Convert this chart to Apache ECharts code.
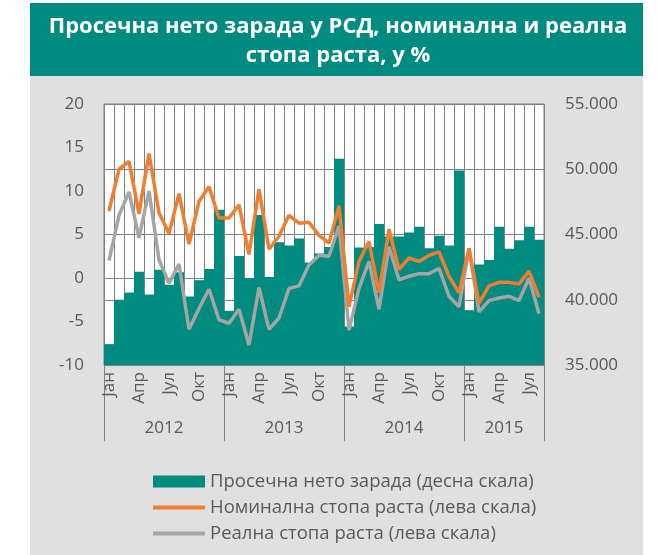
<!DOCTYPE html>
<html>
<head>
<meta charset="utf-8">
<script src="https://cdn.jsdelivr.net/npm/echarts@6/dist/echarts.min.js"></script>
<style>
  html, body { margin: 0; padding: 0; background: #fff; }
  #main { width: 658px; height: 555px; }
</style>
</head>
<body>
<div id="main"></div>
<script>
// подаци
var years = ['2012', '2013', '2014', '2015'];
var monthNames = ['Јан', 'Феб', 'Мар', 'Апр', 'Мај', 'Јун', 'Јул', 'Авг', 'Сеп', 'Окт', 'Нов', 'Дец'];
var monthsInYear = [12, 12, 12, 8];

// просечна нето зарада, РСД (десна скала)
var wages = [
  36600, 40000, 40550, 42150, 40400, 42300, 41150, 42100, 40250, 41500, 42350, 46900,
  39150, 43350, 41650, 46500, 41750, 44400, 44150, 44700, 42850, 43550, 44050, 50800,
  37950, 44000, 44050, 45800, 44850, 44850, 45150, 45600, 43950, 44900, 44150, 49900,
  39200, 42700, 43050, 45600, 43900, 44550, 45600, 44600
];
// номинална стопа раста, % (лева скала)
var nominal = [
  7.7, 12.5, 13.4, 7.4, 14.3, 7.5, 5.1, 9.7, 3.9, 8.8, 10.5, 6.9,
  6.9, 8.4, 2.7, 10.2, 3.3, 4.8, 7.2, 6.3, 6.4, 4.9, 4.0, 8.3,
  -3.3, 1.9, 4.2, -1.7, 5.6, 1.0, 2.3, 1.9, 2.6, 3.0, 0.2, -1.7,
  3.4, -2.9, -0.9, -0.5, -0.5, -0.7, 0.8, -2.2
];
// реална стопа раста, % (лева скала)
var real = [
  2.0, 7.2, 9.9, 4.6, 10.0, 2.1, -0.6, 1.6, -5.9, -3.5, -1.3, -4.8,
  -5.2, -3.6, -7.7, -1.1, -5.9, -4.6, -1.2, -0.9, 1.5, 2.6, 2.5, 6.0,
  -6.0, -1.2, 1.9, -3.6, 3.6, -0.2, 0.2, 0.5, 0.5, 1.1, -2.1, -3.3,
  3.4, -3.9, -2.6, -2.3, -2.1, -2.6, 0.0, -4.1
];

var seriesNames = [
  'Просечна нето зарада (десна скала)',
  'Номинална стопа раста (лева скала)',
  'Реална стопа раста (лева скала)'
];

// категорије: месеци по годинама
var categories = [];
var yearMid = {};
var pos = 0;
years.forEach(function (y, i) {
  yearMid[pos + monthsInYear[i] / 2] = y;
  for (var m = 0; m < monthsInYear[i]; m++) {
    categories.push(monthNames[m] + ' ' + y);
  }
  pos += monthsInYear[i];
});

var teal = '#008B80';
var orange = '#EF7F30';
var grey = '#A5A5A5';
var textColor = '#595959';
var lineGrey = '#7F7F7F';
var font = 'Open Sans';

var chart = echarts.init(document.getElementById('main'));

var option = {
  backgroundColor: '#fff',
  animation: false,
  textStyle: { fontFamily: font },
  graphic: [
    { type: 'rect', z: -10, shape: { x: 30, y: 3, width: 613, height: 552 }, style: { fill: '#E0E0E0' } },
    { type: 'rect', z: -10, shape: { x: 30, y: 3, width: 613, height: 73 }, style: { fill: teal } }
  ],
  title: {
    text: 'Просечна нето зарада у РСД, номинална и реална\nстопа раста, у %',
    left: 338,
    top: 12,
    padding: 0,
    textAlign: 'center',
    textStyle: { color: '#fff', fontSize: 22, fontWeight: 'bold', lineHeight: 29, fontFamily: font }
  },
  legend: {
    orient: 'vertical',
    left: 153,
    top: 472,
    padding: 0,
    itemWidth: 52,
    itemHeight: 12,
    itemGap: 7,
    itemStyle: { borderWidth: 0 },
    textStyle: { color: textColor, fontSize: 18.5, fontFamily: font },
    data: [
      { name: seriesNames[0], icon: 'rect' },
      { name: seriesNames[1], icon: 'path://M0,0H52V4H0Z' },
      { name: seriesNames[2], icon: 'path://M0,0H52V4H0Z' }
    ]
  },
  grid: {
    left: 104, width: 440, top: 104, height: 261,
    show: true, backgroundColor: '#fff', borderColor: lineGrey, borderWidth: 1
  },
  xAxis: [
    {
      type: 'category',
      data: categories,
      position: 'bottom',
      axisLine: { lineStyle: { color: lineGrey } },
      axisTick: { show: false },
      splitLine: { show: true, interval: 0, lineStyle: { color: lineGrey, width: 1 } },
      axisLabel: {
        interval: 0,
        rotate: 90,
        margin: 7,
        color: textColor,
        fontSize: 17,
        fontFamily: font,
        formatter: function (v, i) { return i % 3 === 0 ? v.split(' ')[0] : ''; }
      }
    },
    {
      type: 'category',
      data: categories,
      position: 'bottom',
      axisLine: { show: false },
      axisLabel: { show: false },
      splitLine: { show: false },
      axisTick: {
        show: true,
        length: 76,
        interval: function (i) { return i % 12 === 0; },
        lineStyle: { color: lineGrey }
      }
    },
    {
      type: 'value',
      min: 0,
      max: categories.length,
      interval: 2,
      position: 'bottom',
      axisLine: { show: false },
      axisTick: { show: false },
      splitLine: { show: false },
      axisLabel: {
        margin: 55,
        color: textColor,
        fontSize: 17,
        fontFamily: font,
        formatter: function (v) { return yearMid[v] || ''; }
      }
    }
  ],
  yAxis: [
    {
      type: 'value',
      min: -10, max: 20, interval: 5,
      position: 'left',
      axisLine: { show: false },
      axisTick: { show: false },
      splitLine: { show: false },
      axisLabel: { margin: 20, color: textColor, fontSize: 17, fontFamily: font }
    },
    {
      type: 'value',
      min: 35000, max: 55000, interval: 5000,
      position: 'right',
      axisLine: { show: false },
      axisTick: { show: false },
      splitLine: { show: true, lineStyle: { color: lineGrey, width: 1 } },
      axisLabel: {
        margin: 21, color: textColor, fontSize: 17, fontFamily: font,
        formatter: function (v) { return String(v).replace(/\B(?=(\d{3})+(?!\d))/g, '.'); }
      }
    }
  ],
  series: [
    {
      name: seriesNames[0],
      type: 'bar',
      xAxisIndex: 0,
      yAxisIndex: 1,
      data: wages,
      barCategoryGap: '0%',
      itemStyle: { color: teal },
      z: 2
    },
    {
      name: seriesNames[1],
      type: 'line',
      xAxisIndex: 0,
      yAxisIndex: 0,
      data: nominal,
      symbol: 'none',
      itemStyle: { color: orange },
      lineStyle: { color: orange, width: 3.5 },
      z: 4
    },
    {
      name: seriesNames[2],
      type: 'line',
      xAxisIndex: 0,
      yAxisIndex: 0,
      data: real,
      symbol: 'none',
      itemStyle: { color: grey },
      lineStyle: { color: grey, width: 3.5 },
      z: 3
    }
  ]
};

chart.setOption(option);
</script>
</body>
</html>
